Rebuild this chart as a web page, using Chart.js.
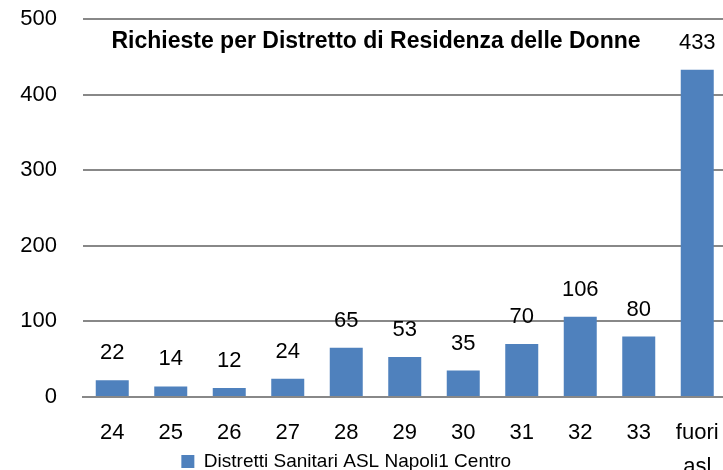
<!DOCTYPE html>
<html>
<head>
<meta charset="utf-8">
<script src="https://cdn.jsdelivr.net/npm/chart.js@4/dist/chart.umd.min.js"></script>
<style>
  html, body { margin: 0; padding: 0; overflow: hidden; background: #fff; }
  #wrap { width: 730px; height: 514px; }
</style>
</head>
<body>
<div id="wrap"><canvas id="chart"></canvas></div>
<script>
const categories = ["24", "25", "26", "27", "28", "29", "30", "31", "32", "33", ["fuori", "asl"]];
const richieste = [22, 14, 12, 24, 65, 53, 35, 70, 106, 80, 433];
const yTicks = [0, 100, 200, 300, 400, 500];
const seriesLabel = "Distretti Sanitari ASL Napoli1 Centro";
const chartTitle = "Richieste per Distretto di Residenza delle Donne";

const FONT = "'Liberation Sans', Arial, sans-serif";

// values written above each bar
const barValues = {
  id: "barValues",
  afterDatasetsDraw(chart) {
    const ctx = chart.ctx;
    const meta = chart.getDatasetMeta(0);
    ctx.save();
    ctx.font = "22px " + FONT;
    ctx.fillStyle = "#000";
    ctx.textAlign = "center";
    ctx.textBaseline = "middle";
    meta.data.forEach((bar, i) => {
      ctx.fillText(String(richieste[i]), bar.x, bar.y - 27);
    });
    ctx.restore();
  }
};

// title sits inside the plot area
const innerTitle = {
  id: "innerTitle",
  afterDraw(chart) {
    const ctx = chart.ctx;
    ctx.save();
    ctx.font = "bold 23px " + FONT;
    ctx.fillStyle = "#000";
    ctx.textAlign = "center";
    ctx.textBaseline = "middle";
    ctx.fillText(chartTitle, 376, 42);
    ctx.restore();
  }
};

// pull the legend up so it sits beside the second line of "fuori asl"
const legendShift = {
  id: "legendShift",
  afterLayout(chart) {
    const lg = chart.legend;
    const h = lg.bottom - lg.top;
    lg.top = 446;
    lg.bottom = lg.top + h;
    lg.left -= 17;
    lg.right -= 17;
  }
};

new Chart(document.getElementById("chart"), {
  type: "bar",
  data: {
    labels: categories,
    datasets: [
      {
        label: seriesLabel,
        data: richieste,
        backgroundColor: "#4F81BD",
        borderWidth: 0,
        barPercentage: 0.564,
        categoryPercentage: 1.0,
      },
    ],
  },
  options: {
    responsive: true,
    maintainAspectRatio: false,
    animation: false,
    layout: { padding: { top: 19, right: 3.5, left: 0, bottom: 0 } },
    scales: {
      x: {
        grid: { display: false, drawTicks: false },
        border: { display: true, color: "#888", width: 2 },
        ticks: {
          color: "#000",
          font: { family: FONT, size: 22, lineHeight: 1.55 },
          padding: 19,
          maxRotation: 0,
          autoSkip: false,
        },
        afterFit(scale) {
          scale.height = 82;
          scale.paddingLeft = 0;
          scale.paddingRight = 0;
        },
      },
      y: {
        min: 0,
        max: 500,
        afterBuildTicks(scale) {
          scale.ticks = yTicks.map((v) => ({ value: v }));
        },
        grid: { color: "#888", lineWidth: 2, drawTicks: false },
        border: { display: false },
        ticks: {
          color: "#000",
          font: { family: FONT, size: 22 },
          padding: 26,
        },
        afterFit(scale) {
          scale.width = 83;
          scale.paddingTop = 0;
          scale.paddingBottom = 0;
        },
      },
    },
    plugins: {
      legend: {
        position: "bottom",
        labels: {
          color: "#000",
          font: { family: FONT, size: 19, lineHeight: 1 },
          boxWidth: 13,
          boxHeight: 13,
          padding: 6,
        },
      },
      tooltip: { enabled: false },
    },
  },
  plugins: [barValues, innerTitle, legendShift],
});
</script>
</body>
</html>
